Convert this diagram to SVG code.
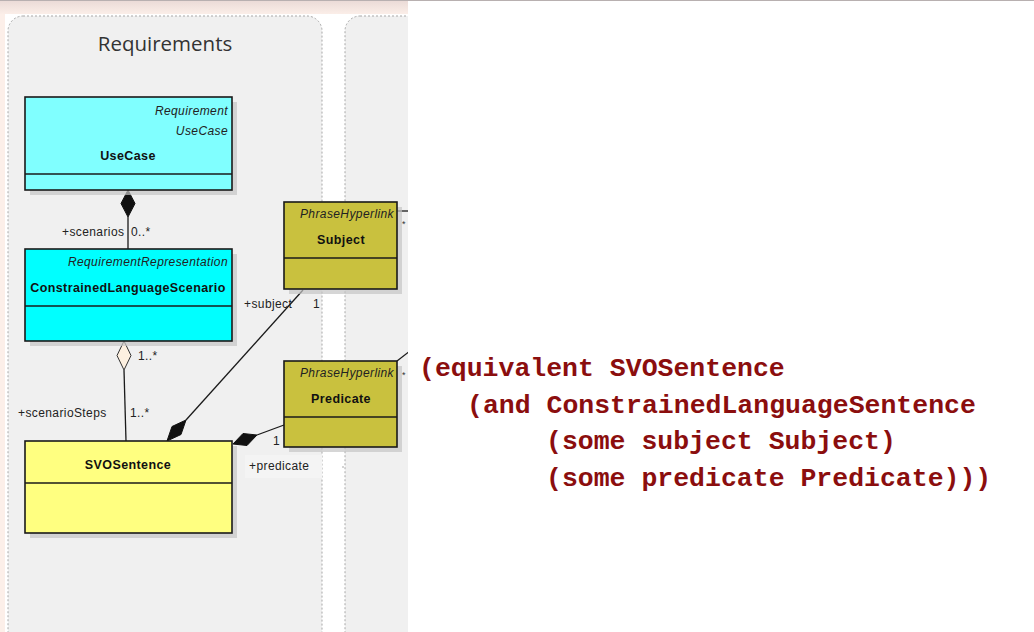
<svg xmlns="http://www.w3.org/2000/svg" width="1034" height="632" viewBox="0 0 1034 632">
<defs>
<style>
.panel{fill:#f0f0f0;stroke:#a8a8a8;stroke-width:1;stroke-dasharray:2,2}
.box{stroke:#1a1a1a;stroke-width:1.6}
.div{stroke:#1a1a1a;stroke-width:1.6}
.shadow{fill:#c4c4c4;opacity:0.7}
.ster{font-family:"Liberation Sans",Arial,sans-serif;font-size:12px;font-style:italic;fill:#222;text-anchor:end;letter-spacing:0.4px}
.name{font-family:"Liberation Sans",Arial,sans-serif;font-size:12.5px;font-weight:bold;fill:#111;text-anchor:middle;letter-spacing:0.4px}
.lbl{font-family:"Liberation Sans",Arial,sans-serif;font-size:12px;fill:#222;letter-spacing:0.4px}
.star{font-family:"Liberation Sans",Arial,sans-serif;font-size:9px;fill:#333}
.conn{stroke:#1a1a1a;stroke-width:1.3;fill:none}
.code{font-family:"Liberation Mono","Courier New",monospace;font-size:26.5px;font-weight:bold;fill:#8b0e0e}
</style>
<linearGradient id="band" x1="0" y1="0" x2="0" y2="1">
<stop offset="0" stop-color="#eadad6"/>
<stop offset="1" stop-color="#fbeee8"/>
</linearGradient>
<clipPath id="left"><rect x="0" y="0" width="408" height="632"/></clipPath>
</defs>
<rect x="0" y="0" width="1034" height="632" fill="#ffffff"/>
<g id="background" clip-path="url(#left)">
<rect x="0" y="0" width="408" height="14" fill="url(#band)"/>
<rect x="0" y="14" width="5" height="618" fill="#fcefe9"/>
<rect x="8" y="16" width="314" height="636" rx="15" class="panel"/>
<rect x="345" y="16" width="120" height="636" rx="15" class="panel"/>
<text x="165" y="51" font-family="'Open Sans','Noto Sans',sans-serif" font-size="20.5" fill="#333" text-anchor="middle">Requirements</text>
<rect x="245" y="455" width="77" height="23" fill="#f4f4f4"/>
<circle cx="343" cy="467" r="0.7" fill="#888"/>
</g>
<line x1="0" y1="0.5" x2="1034" y2="0.5" stroke="#b8b0b0" stroke-width="1"/>
<g id="connectors" clip-path="url(#left)">
<line class="conn" x1="128" y1="217" x2="128" y2="249"/>
<polygon points="128,190 135,203.5 128,217 121,203.5" fill="#111" stroke="#111"/>
<line class="conn" x1="124" y1="370" x2="126" y2="441"/>
<polygon points="124,341 131,355.5 124,370 117,355.5" fill="#fdf0e0" stroke="#333" stroke-width="1"/>
<line class="conn" x1="303" y1="290" x2="186" y2="420"/>
<polygon points="167,441 181,434.5 186,420 172,426.5" fill="#111" stroke="#111"/>
<line class="conn" x1="284" y1="425" x2="257" y2="435"/>
<polygon points="233,444 247,445.5 257,435 243,433.5" fill="#111" stroke="#111"/>
<line class="conn" x1="397" y1="211" x2="410" y2="211"/>
<line class="conn" x1="397" y1="361" x2="410" y2="351"/>
<text class="lbl" x="62" y="236">+scenarios</text>
<text class="lbl" x="131" y="236">0..*</text>
<text class="lbl" x="138" y="360">1..*</text>
<text class="lbl" x="18" y="417">+scenarioSteps</text>
<text class="lbl" x="130" y="417">1..*</text>
<text class="lbl" x="244" y="308">+subject</text>
<text class="lbl" x="313" y="308">1</text>
<text class="lbl" x="273" y="445">1</text>
<text class="lbl" x="249" y="470">+predicate</text>
<text class="star" x="402" y="227">*</text>
<text class="star" x="402" y="378">*</text>
</g>
<g id="usecase">
<rect class="shadow" x="30" y="102" width="207" height="93"/>
<rect class="box" x="25" y="97" width="207" height="93" fill="#80ffff"/>
<line class="div" x1="25" y1="174" x2="232" y2="174"/>
<text class="ster" x="228" y="115">Requirement</text>
<text class="ster" x="228" y="135">UseCase</text>
<text class="name" x="128" y="160">UseCase</text>
</g>
<g id="constrainedLanguageScenario">
<rect class="shadow" x="30" y="254" width="207" height="92"/>
<rect class="box" x="25" y="249" width="207" height="92" fill="#00ffff"/>
<line class="div" x1="25" y1="306" x2="232" y2="306"/>
<text class="ster" x="228" y="266">RequirementRepresentation</text>
<text class="name" x="128" y="292">ConstrainedLanguageScenario</text>
</g>
<g id="svoSentence">
<rect class="shadow" x="30" y="446" width="207" height="92"/>
<rect class="box" x="25" y="441" width="207" height="92" fill="#ffff80"/>
<line class="div" x1="25" y1="483" x2="232" y2="483"/>
<text class="name" x="128" y="469">SVOSentence</text>
</g>
<g id="subject" clip-path="url(#left)">
<rect class="shadow" x="289" y="207" width="113" height="87"/>
<rect class="box" x="284" y="202" width="113" height="87" fill="#c9c13e"/>
<line class="div" x1="284" y1="258" x2="397" y2="258"/>
<text class="ster" x="394" y="218">PhraseHyperlink</text>
<text class="name" x="341" y="244">Subject</text>
</g>
<g id="predicate" clip-path="url(#left)">
<rect class="shadow" x="289" y="366" width="113" height="86"/>
<rect class="box" x="284" y="361" width="113" height="86" fill="#c9c13e"/>
<line class="div" x1="284" y1="417" x2="397" y2="417"/>
<text class="ster" x="394" y="377">PhraseHyperlink</text>
<text class="name" x="341" y="403">Predicate</text>
</g>
<g id="owl-expression">
<text class="code" x="419" y="376">(equivalent SVOSentence</text>
<text class="code" x="467" y="413">(and ConstrainedLanguageSentence</text>
<text class="code" x="546" y="449">(some subject Subject)</text>
<text class="code" x="546" y="486">(some predicate Predicate)))</text>
</g>
</svg>
